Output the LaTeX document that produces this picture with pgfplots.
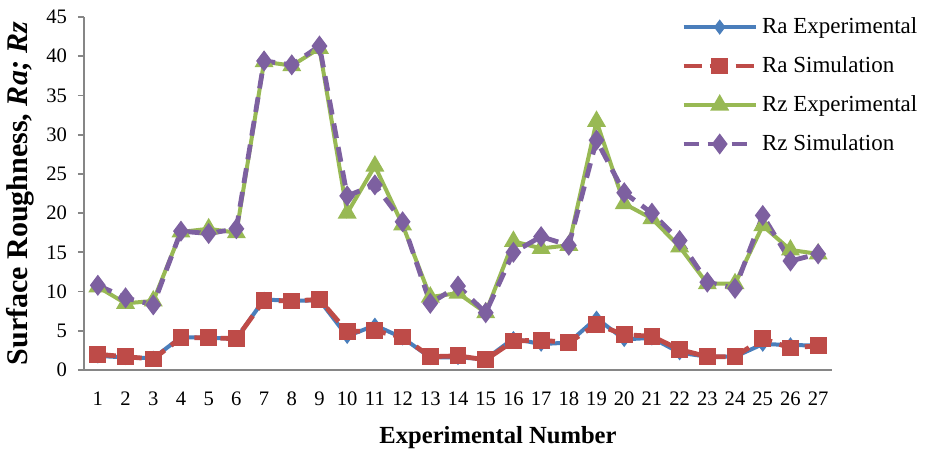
\documentclass[border=0pt]{standalone}
\usepackage{pgfplots}
\pgfplotsset{compat=1.18}
\usepackage{fontspec}
\setmainfont{Liberation Serif}
\definecolor{cBlue}{HTML}{4A7EBB}
\definecolor{cRed}{HTML}{BE4B48}
\definecolor{cGreen}{HTML}{98B954}
\definecolor{cPurple}{HTML}{7D60A0}
\definecolor{cAxis}{HTML}{868686}
\begin{document}
\begin{tikzpicture}
\useasboundingbox (-42pt,-40pt) rectangle (420.5pt,185pt);
\begin{axis}[
  at={(0pt,0pt)}, anchor=south west,
  scale only axis, width=374pt, height=176.5pt,
  xmin=0.5, xmax=27.5, ymin=0, ymax=45,
  axis x line=bottom, axis y line=left,
  axis line style={-, cAxis, line width=0.9pt},
  xtick={1,...,27}, ytick={0,5,...,45},
  xtick style={draw=none},
  ytick style={cAxis, line width=0.9pt},
  tick align=outside, major tick length=3pt,
  /pgf/number format/assume math mode=true,
  ticklabel style={font=\fontsize{10.3}{12}\selectfont},
  yticklabel style={xshift=-2pt},
  xticklabel style={yshift=-4.5pt},
  xlabel={\textbf{Experimental Number}},
  ylabel={\textbf{Surface Roughness, \textit{Ra; Rz}}},
  xlabel style={font=\fontsize{12.3}{14}\selectfont, yshift=-3.5pt, xshift=20pt},
  ylabel style={font=\fontsize{15}{17}\selectfont, yshift=-1pt},
  legend cell align=left,
  legend style={draw=none, fill=none, at={(rel axis cs:0.79,1.022)}, anchor=north west,
    font=\fontsize{11.5}{14}\selectfont, row sep=6pt,
    /tikz/every even column/.append style={column sep=2pt}},
  legend image code/.code={\draw[#1, mark repeat=2, mark phase=2] plot coordinates {(0pt,0pt) (18pt,0pt) (36pt,0pt)};},
]
\addplot[cBlue, line width=2pt, mark=diamond*, mark size=2.2pt, mark options={solid}] coordinates {
(1,1.8)(2,1.6)(3,1.5)(4,4.2)(5,4.1)(6,4.0)(7,9.0)(8,8.8)(9,8.9)(10,4.3)(11,5.7)(12,4.1)(13,1.6)(14,1.6)(15,1.4)(16,4.0)(17,3.3)(18,3.5)(19,6.6)(20,3.9)(21,4.1)(22,2.2)(23,1.7)(24,1.7)(25,3.3)(26,3.2)(27,3.1)};
\addlegendentry{Ra Experimental}
\addplot[cRed, line width=2.4pt, dash pattern=on 9pt off 4pt, mark=square*, mark size=3pt, mark options={solid}] coordinates {
(1,2.0)(2,1.7)(3,1.4)(4,4.1)(5,4.1)(6,4.0)(7,8.9)(8,8.8)(9,9.0)(10,4.9)(11,5.0)(12,4.2)(13,1.7)(14,1.8)(15,1.3)(16,3.7)(17,3.8)(18,3.5)(19,5.8)(20,4.5)(21,4.3)(22,2.6)(23,1.7)(24,1.7)(25,4.0)(26,2.8)(27,3.1)};
\addlegendentry{Ra Simulation}
\addplot[cGreen, line width=2pt, mark=triangle*, mark size=3.5pt, mark options={solid}] coordinates {
(1,10.6)(2,8.5)(3,8.8)(4,17.6)(5,18.0)(6,17.5)(7,39.3)(8,38.8)(9,41.0)(10,20.0)(11,26.0)(12,18.5)(13,9.3)(14,9.8)(15,7.3)(16,16.4)(17,15.5)(18,15.9)(19,31.7)(20,21.2)(21,19.3)(22,15.7)(23,11.0)(24,11.0)(25,18.4)(26,15.3)(27,14.8)};
\addlegendentry{Rz Experimental}
\addplot[cPurple, line width=2.4pt, dash pattern=on 7.5pt off 4.5pt, mark=diamond*, mark size=3.3pt, mark options={solid}] coordinates {
(1,10.8)(2,9.2)(3,8.3)(4,17.7)(5,17.4)(6,18.0)(7,39.4)(8,38.9)(9,41.3)(10,22.2)(11,23.6)(12,18.9)(13,8.5)(14,10.7)(15,7.3)(16,15.0)(17,17.0)(18,15.9)(19,29.3)(20,22.6)(21,20.0)(22,16.5)(23,11.2)(24,10.4)(25,19.7)(26,13.9)(27,14.8)};
\addlegendentry{Rz Simulation}
\end{axis}
\end{tikzpicture}
\end{document}
